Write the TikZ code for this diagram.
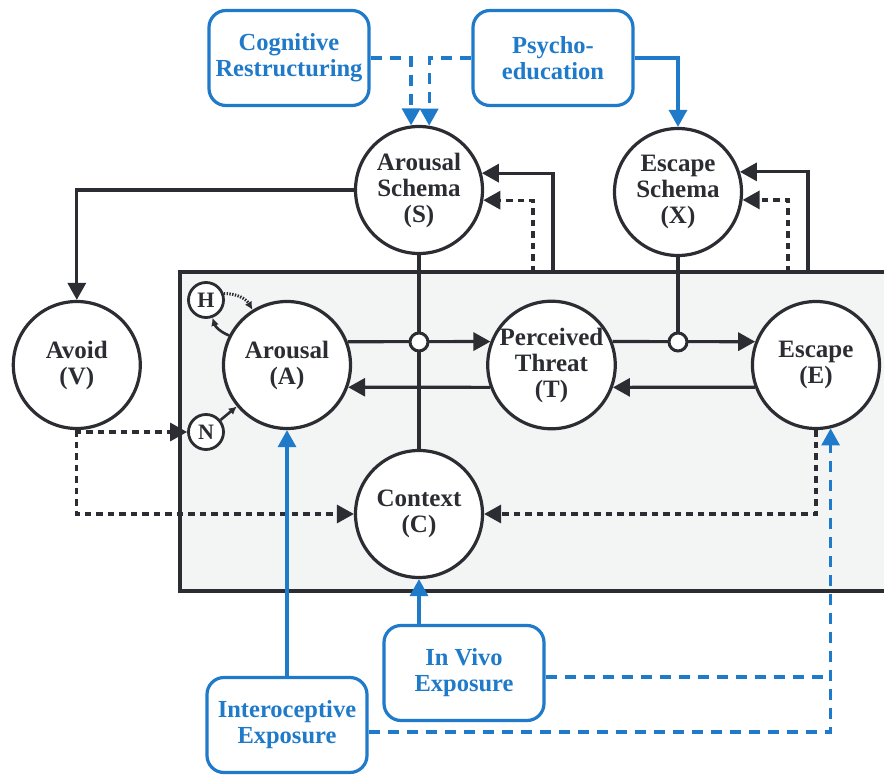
\documentclass[tikz,border=0pt]{standalone}
\usepackage{fontspec}
\setmainfont{Liberation Serif}
\usetikzlibrary{arrows.meta,positioning}
\definecolor{ink}{HTML}{2B2D33}
\definecolor{blu}{HTML}{1F7AC9}
\definecolor{pnl}{HTML}{F3F4F4}

\begin{document}
\begin{tikzpicture}[x=1pt,y=-1pt,node distance=134pt,
  st/.style={circle,draw=ink,line width=3.2pt,fill=white,minimum size=127pt,
             inner sep=0pt,align=center,text=ink,font=\bfseries\fontsize{25}{26}\selectfont},
  sm/.style={circle,draw=ink,line width=2.8pt,fill=white,minimum size=35pt,
             inner sep=0pt,text=ink,font=\bfseries\fontsize{22}{22}\selectfont},
  jn/.style={circle,draw=ink,line width=3pt,fill=white,minimum size=18pt,inner sep=0pt},
  bx/.style={draw=blu,line width=3.2pt,rounded corners=17pt,fill=white,align=center,
             minimum width=160pt,minimum height=95pt,text=blu,
             font=\bfseries\fontsize{24.5}{26}\selectfont},
  ln/.style={ink,line width=3.2pt},
  ar/.style={-{Triangle[length=17pt,width=18pt]},ink,line width=3.2pt},
  dar/.style={ar,dash pattern=on 6.5pt off 5pt},
  sar/.style={-{Latex[length=8pt,width=8pt]},ink,line width=2.6pt},
  sdot/.style={sar,dash pattern=on 1.4pt off 1.4pt,line width=3pt},
  bar/.style={-{Triangle[length=17pt,width=18pt]},blu,line width=3.2pt},
  bdar/.style={bar,dash pattern=on 11pt off 8pt},
  bln/.style={blu,line width=3.2pt,dash pattern=on 11pt off 8pt}]
\useasboundingbox (0,0) rectangle (884,776);
\clip (0,0) rectangle (884,776);
% context panel, open to the right
\draw[ink,line width=3.2pt,fill=pnl] (180,272) rectangle (900,591);

\node[st] (A) at (287,365) {Arousal\\(A)};
\node[st,right=of A] (T) {Perceived\\Threat\\(T)};
\node[st,right=of T] (E) {Escape\\(E)};
\node[st,left=80pt of A] (V) {Avoid\\(V)};
\node[st] (S) at (419,190) {Arousal\\Schema\\(S)};
\node[st] (X) at (678,192) {Escape\\Schema\\(X)};
\node[st] (C) at (419,514) {Context\\(C)};
\node[sm] (H) at (206,300) {H};
\node[sm] (N) at (206,432) {N};

\node[bx] (CR) at (289,58) {Cognitive\\Restructuring};
\node[bx] (PE) at (553,58) {Psycho-\\education};
\node[bx] (IV) at (464,673) {In Vivo\\Exposure};
\node[bx] (IE) at (287,725) {Interoceptive\\Exposure};

% moderation lines
\coordinate (j1) at (419,342);
\coordinate (j2) at (678,342);
\draw[ln] (S.south) -- (C.north);
\draw[ln] (X.south) -- (j2);
\draw[ar] (A.21) -- (T.159);
\draw[ar] (T.-160) -- (A.-20);
\draw[ar] (T.21) -- (E.159);
\draw[ar] (E.-160) -- (T.-20);
\node[jn] at (j1) {};
\node[jn] at (j2) {};

% feedback to the schemas
\coordinate (bs) at (553,272);
\coordinate (bsd) at (533,272);
\coordinate (bx) at (808,272);
\coordinate (bxd) at (788,272);
\draw[ar] (bs) |- (S.15);
\draw[dar] (bsd) |- (S.-9);
\draw[ar] (bx) |- (X.18);
\draw[dar] (bxd) |- (X.-7);

\draw[ar] (S.west) -| (V.north);
\draw[dar] (V.south) |- (N.west);
\draw[dar] (V.south) |- (C.west);
\draw[dar] (E.south) |- (C.east);
\draw[sar] (N) -- (A);
\draw[sar] (A.153) to[bend left=25] (H.-70);
\draw[sdot] (H.20) to[bend left=30] (A.122);

% treatments
\draw[bdar] (CR.east) -| (S.97);
\draw[bdar] (PE.west) -| (S.81);
\draw[bar] (PE.east) -| (X.north);
\draw[bar] (IV.north -| C) -- (C.south);
\draw[bar] (IE.north) -- (A.south);
\coordinate (ive) at ([yshift=-4pt]IV.east);
\coordinate (iee) at ([yshift=-7pt]IE.east);
\draw[bdar] (iee) -| (E.-77);
\draw[bln] (ive) -- (ive -| E.-77);
\end{tikzpicture}
\end{document}
